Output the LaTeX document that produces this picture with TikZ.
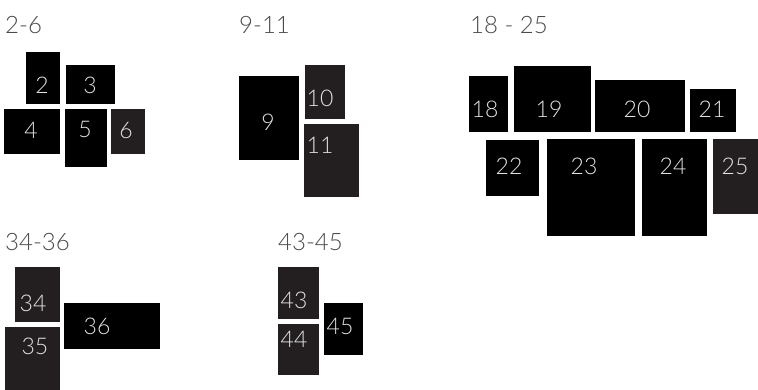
\documentclass[tikz,border=0pt]{standalone}
\usepackage{fontspec}
\setmainfont{Lato}[UprightFont = * Light]
\usepackage{tikz}
\usetikzlibrary{calc}

\definecolor{tilegray}{HTML}{231F20}
\definecolor{titlegray}{HTML}{4A4A4A}
\definecolor{numgray}{HTML}{E2E2E2}

\tikzset{
  blk/.style={fill=black},
  gry/.style={fill=tilegray},
  ttl/.style={anchor=west, inner sep=0pt, text=titlegray, font=\fontsize{24}{26}\selectfont},
  num/.style={inner sep=0pt, text=numgray, font=\fontsize{23}{25}\selectfont}
}

\begin{document}
\begin{tikzpicture}[x=1pt, y=-1pt]

    \useasboundingbox (0,0) rectangle (758,390);

    % =========================================================================
    % GROUP A: 2-6
    % =========================================================================
    \begin{scope}
        \node[ttl] (t-a) at (5,25) {2-6};
        \fill[blk] (26,52) rectangle (60,104);
        \fill[blk] (66,65) rectangle (115,104);
        \fill[blk] (4,109) rectangle (60,154);
        \fill[blk] (65,109) rectangle (107,167);
        \fill[gry] (111,109) rectangle (145,154);
        \node[num] (n2) at (42,85) {2};
        \node[num] (n3) at (90,85) {3};
        \node[num] (n4) at (31,130) {4};
        \node[num] (n5) at (85,129) {5};
        \node[num] (n6) at (126,130) {6};
    \end{scope}

    % =========================================================================
    % GROUP B: 9-11
    % =========================================================================
    \begin{scope}
        \node[ttl] (t-b) at (239,25) {9-11};
        \fill[blk] (239,76) rectangle (299,160);
        \fill[gry] (305,65) rectangle (345,119);
        \fill[gry] (304,124) rectangle (359,197);
        \node[num] (n9) at (268,122) {9};
        \node[num] (n10) at (320,98) {10};
        \node[num] (n11) at (320,145) {11};
    \end{scope}

    % =========================================================================
    % GROUP C: 18 - 25
    % =========================================================================
    \begin{scope}
        \node[ttl] (t-c) at (470,25) {18 - 25};
        % --- top row ---
        \fill[blk] (469,76) rectangle (508,132);
        \fill[blk] (514,66) rectangle (591,132);
        \fill[blk] (595,80) rectangle (685,132);
        \fill[blk] (690,89) rectangle (736,132);
        \node[num] (n18) at (485,109) {18};
        \node[num] (n19) at (549,109) {19};
        \node[num] (n20) at (637,109) {20};
        \node[num] (n21) at (712,109) {21};
        % --- bottom row ---
        \fill[blk] (486,140) rectangle (539,196);
        \fill[blk] (547,139) rectangle (635,236);
        \fill[blk] (642,139) rectangle (707,236);
        \fill[gry] (713,139) rectangle (758,214);
        \node[num] (n22) at (509,166) {22};
        \node[num] (n23) at (584,166) {23};
        \node[num] (n24) at (673,166) {24};
        \node[num] (n25) at (735,166) {25};
    \end{scope}

    % =========================================================================
    % GROUP D: 34-36
    % =========================================================================
    \begin{scope}
        \node[ttl] (t-d) at (5,242) {34-36};
        \fill[gry] (15,267) rectangle (60,322);
        \fill[gry] (5,327) rectangle (60,390);
        \fill[blk] (64,303) rectangle (160,349);
        \node[num] (n34) at (33,303) {34};
        \node[num] (n35) at (35,346) {35};
        \node[num] (n36) at (97,326) {36};
    \end{scope}

    % =========================================================================
    % GROUP E: 43-45
    % =========================================================================
    \begin{scope}
        \node[ttl] (t-e) at (278,242) {43-45};
        \fill[gry] (278,267) rectangle (319,319);
        \fill[gry] (278,324) rectangle (319,375);
        \fill[blk] (324,303) rectangle (363,355);
        \node[num] (n43) at (294,300) {43};
        \node[num] (n44) at (294,339) {44};
        \node[num] (n45) at (340,326) {45};
    \end{scope}

\end{tikzpicture}
\end{document}
